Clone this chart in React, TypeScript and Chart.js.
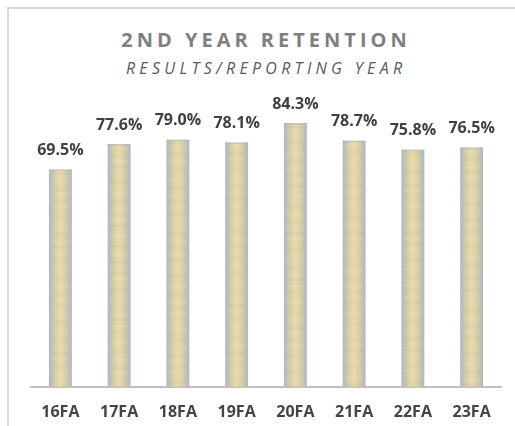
import React, { useEffect, useRef } from "react";
import { Chart, registerables } from "chart.js";

Chart.register(...registerables);

const categories = ["16FA", "17FA", "18FA", "19FA", "20FA", "21FA", "22FA", "23FA"];
const retention = [69.5, 77.6, 79.0, 78.1, 84.3, 78.7, 75.8, 76.5];
const titleText = "2ND YEAR RETENTION";
const subtitleText = "RESULTS/REPORTING YEAR";

const labelFont = "'Open Sans', sans-serif";
const BAR_PCT = 0.39;

const barFill = (ctx: any) => {
  const chart = ctx.chart;
  const xs = chart.scales && chart.scales.x;
  if (!xs || !isFinite(xs.width) || xs.width <= 0) return "#e3d6a8";
  const cx = xs.getPixelForValue(ctx.dataIndex);
  const w = (xs.width / categories.length) * BAR_PCT;
  if (!isFinite(cx)) return "#e3d6a8";
  const c = chart.ctx as CanvasRenderingContext2D;
  const g = c.createLinearGradient(cx - w / 2, 0, cx + w / 2, 0);
  g.addColorStop(0, "#a9b8c8");
  g.addColorStop(0.09, "#b9bfba");
  g.addColorStop(0.3, "#dccfa3");
  g.addColorStop(0.5, "#e9daa9");
  g.addColorStop(0.7, "#dccfa3");
  g.addColorStop(0.91, "#b9bfba");
  g.addColorStop(1, "#a9b8c8");
  return g;
};

const valueLabels = {
  id: "valueLabels",
  afterDatasetsDraw(chart: any) {
    const ctx = chart.ctx as CanvasRenderingContext2D;
    const meta = chart.getDatasetMeta(0);
    ctx.save();
    ctx.font = `bold 16px ${labelFont}`;
    ctx.fillStyle = "#404040";
    ctx.textAlign = "center";
    ctx.textBaseline = "middle";
    meta.data.forEach((bar: any, i: number) => {
      ctx.fillText(retention[i].toFixed(1) + "%", bar.x, bar.y - 19);
    });
    ctx.restore();
  },
};

const bandOffsets = [4, 11, 15, 23, 30, 34, 41];

const barTexture = {
  id: "barTexture",
  afterDatasetDraw(chart: any) {
    const ctx = chart.ctx as CanvasRenderingContext2D;
    const meta = chart.getDatasetMeta(0);
    ctx.save();
    meta.data.forEach((bar: any, bi: number) => {
      const left = bar.x - bar.width / 2;
      const top = bar.y;
      const bottom = bar.base;
      ctx.fillStyle = "rgba(160,180,200,0.45)";
      ctx.fillRect(left, top, bar.width, 1.5);
      let k = bi;
      for (let y = top + 3; y < bottom - 3; ) {
        const step = (bandOffsets[k % bandOffsets.length] % 7) + 4;
        ctx.fillStyle = k % 2 === 0 ? "rgba(140,120,80,0.05)" : "rgba(255,250,235,0.12)";
        ctx.fillRect(left + 3, y, bar.width - 6, 2);
        y += step;
        k++;
      }
    });
    ctx.restore();
  },
};

export default function App() {
  const canvasRef = useRef<HTMLCanvasElement | null>(null);

  useEffect(() => {
    if (!canvasRef.current) return;
    const chart = new Chart(canvasRef.current, {
      type: "bar",
      data: {
        labels: categories,
        datasets: [
          {
            data: retention,
            backgroundColor: barFill,
            borderWidth: 0,
            categoryPercentage: 1,
            barPercentage: BAR_PCT,
          },
        ],
      },
      options: {
        animation: false,
        responsive: false,
        maintainAspectRatio: false,
        layout: { padding: { top: 74, left: 31, right: 14, bottom: -12 } },
        plugins: {
          legend: { display: false },
          tooltip: { enabled: false },
          title: { display: false },
        },
        scales: {
          x: {
            grid: { display: false, drawTicks: false },
            border: { display: true, color: "#c0c0c0", width: 2 },
            ticks: {
              padding: 16,
              color: "#454545",
              font: { family: labelFont, size: 16, weight: "bold" },
            },
          },
          y: {
            display: false,
            min: 0,
            max: 100,
          },
        },
      },
      plugins: [barTexture, valueLabels],
    });
    return () => chart.destroy();
  }, []);

  return (
    <div style={{ position: "absolute", left: 0, top: 0, width: 515, height: 426, background: "#fff", overflow: "hidden" }}>
      <div
        style={{
          position: "absolute",
          left: 7,
          top: 7,
          width: 520,
          height: 430,
          borderTop: "2px solid #d9d9d9",
          borderLeft: "2px solid #d9d9d9",
          boxSizing: "border-box",
        }}
      />
      <div
        style={{
          position: "absolute",
          left: 0,
          top: 27,
          width: 528,
          textAlign: "center",
          fontFamily: "'Open Sans', sans-serif",
          fontWeight: 700,
          fontSize: 20,
          lineHeight: "26px",
          letterSpacing: 4,
          paddingLeft: 4,
          boxSizing: "border-box",
          color: "#7f7f7f",
        }}
      >
        {titleText}
      </div>
      <div
        style={{
          position: "absolute",
          left: 0,
          top: 58,
          width: 528,
          textAlign: "center",
          fontFamily: "'Open Sans', sans-serif",
          fontStyle: "italic",
          fontSize: 16,
          lineHeight: "20px",
          letterSpacing: 4.3,
          paddingLeft: 4.3,
          boxSizing: "border-box",
          color: "#595959",
        }}
      >
        {subtitleText}
      </div>
      <canvas ref={canvasRef} width={515} height={426} style={{ position: "absolute", left: 0, top: 0, width: 515, height: 426 }} />
    </div>
  );
}
